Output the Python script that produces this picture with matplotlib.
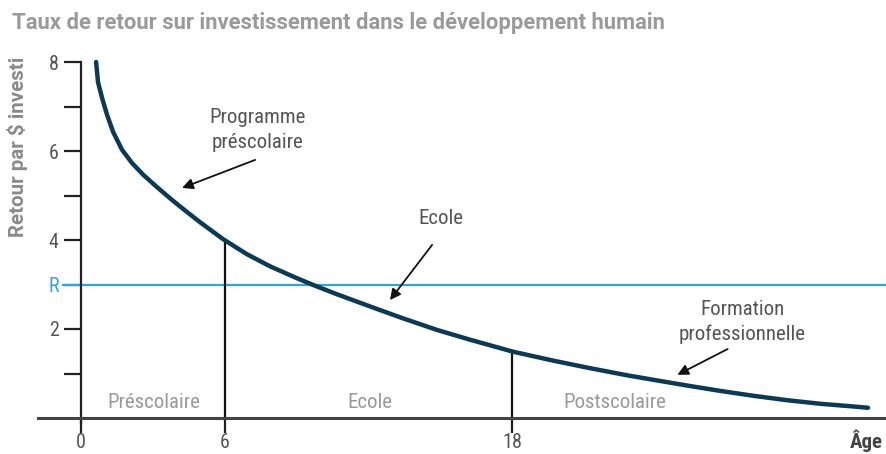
import numpy as np
import matplotlib
matplotlib.use("Agg")
import matplotlib.pyplot as plt

# ---- data ----
ages = [0.63, 0.71, 0.88, 1.09, 1.34, 1.71, 2.13, 2.59, 3.17, 3.80, 4.26, 4.97,
        5.93, 6.93, 7.89, 8.85, 9.69, 10.69, 11.65, 12.36, 13.44, 14.86, 16.24,
        18.04, 19.71, 21.25, 22.80, 23.88, 25.30, 26.68, 28.06, 29.48, 30.86,
        32.23, 32.86]
returns = [8.00, 7.55, 7.19, 6.81, 6.43, 6.03, 5.73, 5.47, 5.19, 4.90, 4.70, 4.40,
           4.02, 3.68, 3.41, 3.18, 2.99, 2.78, 2.59, 2.45, 2.24, 1.98, 1.76,
           1.49, 1.29, 1.12, 0.96, 0.86, 0.73, 0.61, 0.50, 0.40, 0.32,
           0.26, 0.23]
r_level = 3
y_ticks = [1, 2, 3, 4, 5, 6, 7, 8]
y_labels = ["", "2", "R", "4", "", "6", "", "8"]
x_ticks = [0, 6, 18]
x_labels = ["0", "6", "18"]
phase_bounds = [6, 18]
phases = ["Préscolaire", "Ecole", "Postscolaire"]
phase_centers = [3.05, 12.07, 22.28]
annotations = [
    ("Programme\npréscolaire", (7.39, 6.47), (7.27, 5.80), (4.22, 5.17)),
    ("Ecole", (15.03, 4.49), (14.66, 3.89), (12.90, 2.65)),
    ("Formation\nprofessionnelle", (27.6, 2.16), (27.0, 1.55), (24.9, 0.97)),
]

plt.rcParams['font.family'] = ['Roboto Condensed', 'DejaVu Sans']
plt.rcParams['font.stretch'] = 'condensed'

W, H = 887, 454
fig = plt.figure(figsize=(W / 100, H / 100), dpi=100)
left, right, top, bottom = 38, 886, 55, 430
ax = fig.add_axes([left / W, 1 - bottom / H, (right - left) / W, (bottom - top) / H])

x0px, xs = 81, 23.95
y0px, ys = 418, 44.5
ax.set_xlim((left - x0px) / xs, (right - x0px) / xs)
ax.set_ylim((y0px - bottom) / ys, (y0px - top) / ys)

navy = '#0b3a56'
blue = '#2aa7e1'
gray_txt = '#555555'
light_gray = '#9a9a9a'

for s in ['top', 'right']:
    ax.spines[s].set_visible(False)
ax.spines['left'].set_position(('data', 0))
ax.spines['bottom'].set_position(('data', 0))
ax.spines['left'].set_bounds(-0.12, 8)
ax.spines['left'].set_linewidth(1.6)
ax.spines['bottom'].set_linewidth(2.2)
ax.spines['bottom'].set_color('#444444')
ax.spines['left'].set_color('#222222')

ax.set_yticks(y_ticks)
ax.set_yticklabels(y_labels)
ax.tick_params(axis='y', direction='out', length=12, width=1.6, color='#222222',
               labelsize=14.5, labelcolor=gray_txt, pad=4)
yt = ax.yaxis.get_major_ticks()
yt[2].tick1line.set_color(blue)
yt[2].label1.set_color(blue)
ax.set_xticks(x_ticks)
ax.set_xticklabels(x_labels)
ax.tick_params(axis='x', direction='out', length=11, width=1.6, color='#222222',
               labelsize=14.5, labelcolor=gray_txt, pad=0)

ax.plot([-0.75, (right - x0px) / xs], [r_level, r_level], color=blue, lw=1.6, zorder=2,
        clip_on=False)
ax.plot(ages, returns, color=navy, lw=3.2, solid_capstyle='round',
        solid_joinstyle='round', zorder=3)

for b in phase_bounds:
    yv = np.interp(b, ages, returns)
    ax.plot([b, b], [0, yv], color='#111111', lw=1.6, zorder=2)

for name, cx in zip(phases, phase_centers):
    ax.text(cx, 0.34, name, ha='center', va='center', fontsize=15, color=light_gray)

for txt, tpos, tail, head in annotations:
    ax.text(tpos[0], tpos[1], txt, ha='center', va='center', fontsize=15,
            color=gray_txt, linespacing=1.4)
    ax.annotate('', xy=head, xytext=tail,
                arrowprops=dict(arrowstyle='-|>', color='#111111', lw=1.3,
                                mutation_scale=16, shrinkA=0, shrinkB=0))

fig.text(12 / W, 1 - 23 / H, "Taux de retour sur investissement dans le développement humain",
         ha='left', va='center', fontsize=15.8, fontweight='bold', color='#9a9a9a',
         family=['Roboto', 'DejaVu Sans'], fontstretch='normal')
fig.text(18 / W, 1 - 147 / H, "Retour par $ investi", rotation=90, ha='center', va='center',
         fontsize=14.8, fontweight='bold', color='#8a8a8a',
         family=['Roboto', 'DejaVu Sans'], fontstretch='normal')
fig.text(866 / W, 1 - 441 / H, "Âge", ha='center', va='center', fontsize=15,
         fontweight='bold', color='#444444')

fig.savefig('out.png', dpi=100)
